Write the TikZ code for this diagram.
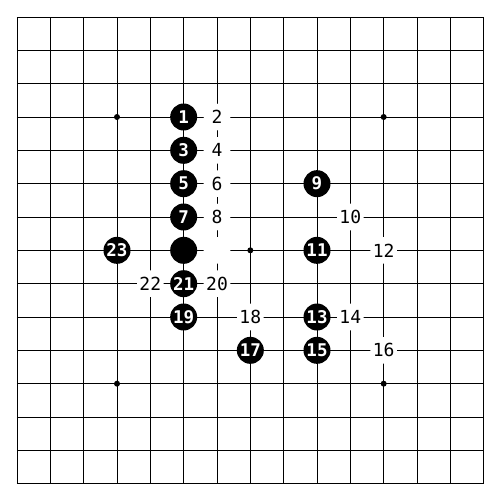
\documentclass[tikz,border=0pt]{standalone}
\usepackage{fontspec}
\setmonofont{DejaVu Sans Mono}
\begin{document}
\begin{tikzpicture}[x=33.333pt,y=-33.333pt,
  gridline/.style={line width=0.9pt,black},
  blackstone/.style={circle,fill=black,inner sep=0pt,minimum size=27pt,text=white,font=\ttfamily\bfseries\fontsize{17.5}{17.5}\selectfont},
  whitestone/.style={circle,fill=white,inner sep=0pt,minimum size=26.6pt,text=black,font=\ttfamily\fontsize{18}{18}\selectfont},
  starpt/.style={circle,fill=black,inner sep=0pt,minimum size=6pt}]
\useasboundingbox[fill=white] (-0.51,-0.51) rectangle (14.49,14.49);
\foreach \i in {0,...,14} {
  \draw[gridline] (\i,0) -- (\i,14);
  \draw[gridline] (0,\i) -- (14,\i);
}
\foreach \p/\q [count=\i] in {3/3,11/3,7/7,3/11,11/11}
  \node[starpt] (star\i) at (\p,\q) {};
% black stones
\node[blackstone] (s1) at (5,3) {1};
\node[blackstone] (s3) at (5,4) {3};
\node[blackstone] (s5) at (5,5) {5};
\node[blackstone] (s7) at (5,6) {7};
\node[blackstone] (s9) at (9,5) {9};
\node[blackstone] (s11) at (9,7) {11};
\node[blackstone] (s13) at (9,9) {13};
\node[blackstone] (s15) at (9,10) {15};
\node[blackstone] (s17) at (7,10) {17};
\node[blackstone] (s19) at (5,9) {19};
\node[blackstone] (s21) at (5,8) {21};
\node[blackstone] (s23) at (3,7) {23};
\node[blackstone] (b0) at (5,7) {};
% white stones
\node[whitestone] (s2) at (6,3) {2};
\node[whitestone] (s4) at (6,4) {4};
\node[whitestone] (s6) at (6,5) {6};
\node[whitestone] (s8) at (6,6) {8};
\node[whitestone] (s10) at (10,6) {10};
\node[whitestone] (s12) at (11,7) {12};
\node[whitestone] (s14) at (10,9) {14};
\node[whitestone] (s16) at (11,10) {16};
\node[whitestone] (s18) at (7,9) {18};
\node[whitestone] (s20) at (6,8) {20};
\node[whitestone] (s22) at (4,8) {22};
\node[whitestone] (w0) at (6,7) {};
\end{tikzpicture}
\end{document}
